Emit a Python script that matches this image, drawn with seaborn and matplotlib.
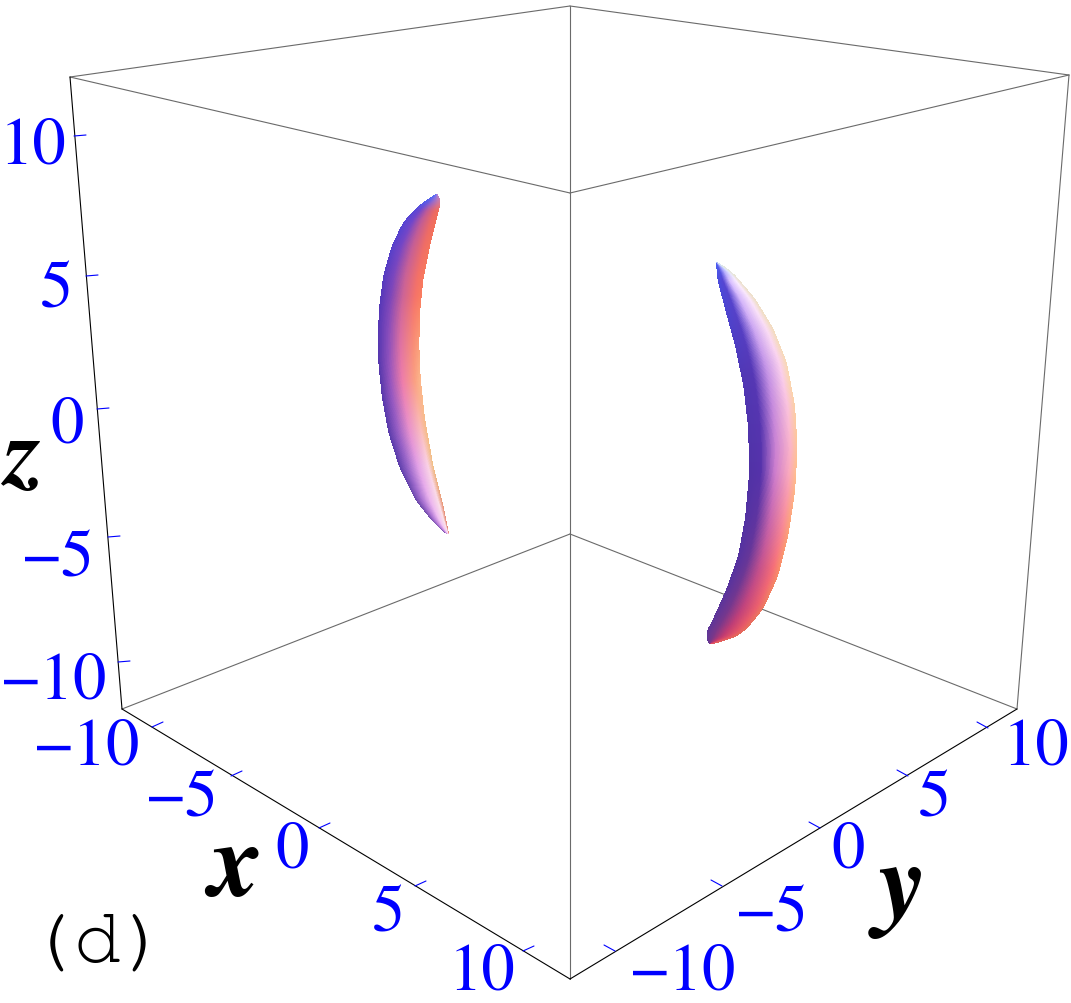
import numpy as np
import pandas as pd
import matplotlib
matplotlib.use("Agg")
import matplotlib.pyplot as plt
import seaborn as sns

# Box edges in picture coordinates
back_edges = [
    [(70, 78), (570, 7)], [(570, 7), (1069, 76)],
    [(70, 78), (570, 194)], [(1069, 76), (570, 194)],
    [(570, 7), (570, 980)],
    [(122, 710), (570, 535)], [(1017, 710), (570, 535)],
    [(1069, 76), (1017, 710)],
]
front_edges = [
    [(70, 78), (122, 710)], [(122, 710), (570, 980)], [(570, 980), (1017, 710)],
]

# Ticks: foot on the axis
z_ticks = [(74, 137), (86, 277), (97, 410), (108, 538), (118, 663)]
x_ticks = [(152, 728), (231, 777), (319, 829), (415, 887), (523, 952)]
y_ticks = [(615, 952), (722, 887), (820, 829), (908, 777), (988, 729)]
z_tick_dir = (12, -1)
x_tick_dir = (11, -5)
y_tick_dir = (-11, -6)

# Tick labels: text, centre x, baseline y
z_labels = [("10", 33, 163), ("5", 56, 308), ("0", 67, 443), ("\u22125", 58, 577), ("\u221210", 54, 699)]
x_labels = [("\u221210", 87, 765), ("\u22125", 182, 817), ("0", 292, 868), ("5", 388, 932), ("10", 482, 990)]
y_labels = [("\u221210", 683, 990), ("\u22125", 772, 932), ("0", 848, 868), ("5", 935, 817), ("10", 1036, 765)]

# Crescent outlines
left_a = [(436, 195), (416.7, 208.3), (403.3, 223.3), (391.7, 246.7), (383.3, 276.7), (379.3, 306.7),
          (378, 330), (378.3, 363.3), (381.7, 396.7), (388.3, 433.3), (400, 470), (415, 500),
          (433.3, 523.3), (446.7, 535)]
right_a = [(437, 195), (441.7, 200), (437.3, 216.7), (430, 246.7), (423.3, 280), (420, 313.3),
           (419.3, 346.7), (420.7, 380), (425, 420), (433.3, 466.7), (443.3, 506.7), (449, 535)]
left_b = [(716, 264), (717.3, 280), (725, 310), (735, 346.7), (743.3, 386.7), (748.3, 430), (749, 476.7),
          (745, 520), (738.3, 556.7), (726.7, 590), (713.3, 620), (705, 636), (709, 645)]
right_b = [(716.7, 263.3), (731.7, 272.7), (755, 300), (773.3, 330), (786.7, 363.3), (795, 406.7),
           (797.7, 450), (795, 493.3), (788.3, 536.7), (778.3, 576.7), (763.3, 610), (745, 632),
           (732, 640), (722, 644), (712, 645)]

# Surface colours: rows run top to bottom, columns left to right
colour_pos_across = [0.0, 0.25, 0.55, 0.85, 1.0]
colour_pos_along = [0.0, 0.05, 0.3, 0.55, 0.8, 1.0]
colours_a = [
    [(80, 110, 245), (90, 110, 245), (120, 120, 245), (170, 130, 220), (190, 130, 210)],
    [(85, 70, 215), (110, 70, 205), (190, 90, 150), (235, 105, 100), (240, 110, 90)],
    [(85, 55, 185), (125, 70, 185), (205, 100, 150), (245, 115, 105), (250, 125, 95)],
    [(85, 55, 170), (150, 85, 190), (238, 125, 170), (250, 160, 130), (252, 185, 140)],
    [(90, 60, 170), (150, 100, 200), (225, 160, 230), (250, 210, 230), (240, 190, 130)],
    [(120, 80, 170), (190, 130, 220), (245, 200, 245), (250, 230, 235), (225, 120, 110)],
]
colours_b = [
    [(70, 95, 245), (80, 95, 240), (140, 150, 250), (200, 220, 250), (225, 235, 225)],
    [(75, 75, 220), (85, 70, 210), (215, 190, 255), (250, 235, 255), (235, 225, 205)],
    [(80, 55, 180), (85, 55, 180), (195, 145, 228), (250, 205, 235), (250, 215, 175)],
    [(80, 50, 165), (85, 50, 170), (205, 125, 205), (250, 170, 190), (255, 190, 140)],
    [(85, 50, 160), (105, 55, 150), (195, 80, 140), (245, 110, 120), (250, 145, 105)],
    [(95, 55, 150), (125, 55, 135), (190, 55, 110), (225, 80, 100), (225, 100, 90)],
]

tick_text_size = 48
serif = "FreeSerif"
mono = "FreeMono"

sns.set_theme(style="white")
fig = plt.figure(figsize=(10.71, 10.04), dpi=100)
ax = fig.add_axes([0, 0, 1, 1])
ax.set_xlim(0, 1071)
ax.set_ylim(1004, 0)
ax.axis("off")


def edge_frame(edges):
    rows = []
    for i, edge in enumerate(edges):
        for px, py in edge:
            rows.append({"edge": i, "px": px, "py": py})
    return pd.DataFrame(rows)


def draw_edges(edges, colour, lw, z):
    sns.lineplot(data=edge_frame(edges), x="px", y="py", units="edge", estimator=None, sort=False,
                 color=colour, linewidth=lw, ax=ax, zorder=z, legend=False)


draw_edges(back_edges, "#6a6a6a", 0.8, 1)
draw_edges(front_edges, "#000000", 0.8, 2)
for feet, (dx, dy) in [(z_ticks, z_tick_dir), (x_ticks, x_tick_dir), (y_ticks, y_tick_dir)]:
    draw_edges([[(fx, fy), (fx + dx, fy + dy)] for fx, fy in feet], "#0000ff", 0.8, 2)

for labels in (z_labels, x_labels, y_labels):
    for text, cx, base in labels:
        ax.text(cx, base, text, color="#0000ff", fontsize=tick_text_size, ha="center", va="baseline",
                family=[serif, "Liberation Serif"])

for text, cx, base, size in [("x", 232, 895, 75), ("y", 897, 917, 78), ("z", 20, 484, 68)]:
    ax.text(cx, base, text, color="black", fontsize=size, fontweight="bold", fontstyle="italic",
            ha="center", va="baseline", family=[serif, "Liberation Serif"])
ax.text(98, 962, "(d)", color="black", fontsize=57, family=[mono, "Liberation Mono"],
        ha="center", va="baseline")


def smooth(values, width=13):
    pad = width // 2
    padded = np.concatenate([2 * values[0] - values[pad:0:-1], values, 2 * values[-1] - values[-2:-pad - 2:-1]])
    return np.convolve(padded, np.ones(width) / width, mode="valid")


def draw_crescent(left, right, colours):
    left = np.array(left, float)
    right = np.array(right, float)
    top = min(left[0, 1], right[0, 1])
    bottom = max(left[-1, 1], right[-1, 1])
    rows = np.arange(top, bottom + 1, 1.0)
    lx = smooth(np.interp(rows, left[:, 1], left[:, 0]))
    rx = smooth(np.interp(rows, right[:, 1], right[:, 0]))
    rx = np.maximum(rx, lx)
    u = np.linspace(0, 1, 61)
    X = lx[:, None] + (rx - lx)[:, None] * u[None, :]
    Y = np.repeat(rows[:, None], u.size, axis=1)
    table = np.array(colours, float) / 255
    uc = 0.5 * (u[:-1] + u[1:])
    vc = 0.5 * (rows[:-1] + rows[1:])
    vc = (vc - top) / (bottom - top)
    across = np.stack([[np.interp(uc, colour_pos_across, row[:, c]) for c in range(3)] for row in table])
    rgb = np.stack([[np.interp(vc, colour_pos_along, across[:, c, j]) for j in range(uc.size)]
                    for c in range(3)], axis=-1)
    rgb = np.transpose(rgb, (1, 0, 2))
    ax.pcolormesh(X, Y, rgb, shading="flat", antialiased=False, linewidth=0, zorder=3)


draw_crescent(left_a, right_a, colours_a)
draw_crescent(left_b, right_b, colours_b)

fig.savefig("out.png", dpi=100, facecolor="white")
